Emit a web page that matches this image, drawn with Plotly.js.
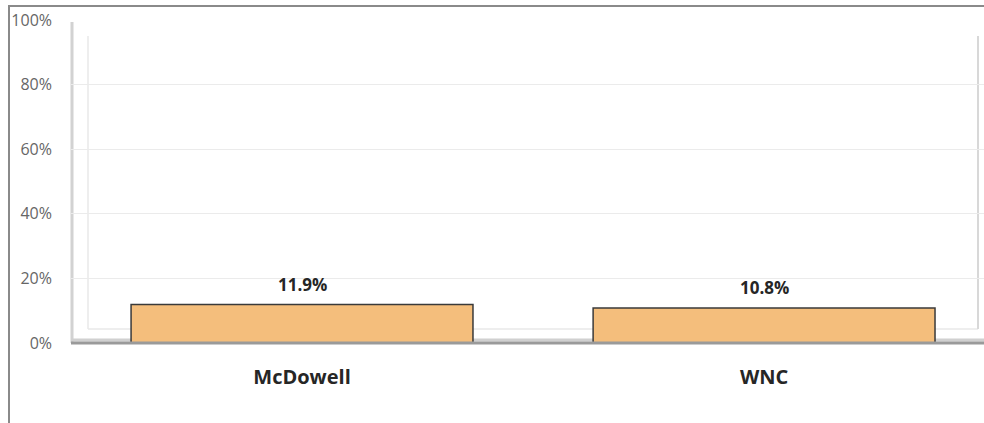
<!DOCTYPE html>
<html><head><meta charset="utf-8">
<script src="https://cdn.plot.ly/plotly-3.0.1.min.js"></script>
<style>html,body{margin:0;padding:0;background:#fff;}#chart{width:984px;height:423px;}</style>
</head><body><div id="chart"></div>
<script>
const categories = ["McDowell", "WNC"];
const values = [0.119, 0.108];
const valueLabels = ["11.9%", "10.8%"];
const tickVals = [0, 0.2, 0.4, 0.6, 0.8, 1.0];
const tickText = ["0%", "20%", "40%", "60%", "80%", "100%"];

const trace = {
  type: "bar",
  x: categories,
  y: values,
  width: 0.74,
  marker: {color: "#F4BE7C", line: {color: "#3a3a3a", width: 1.5}},
  hoverinfo: "skip"
};

const annotations = categories.map((c, i) => ({
  x: c, y: values[i], xref: "x", yref: "y",
  text: "<b>" + valueLabels[i] + "</b>",
  showarrow: false, yanchor: "bottom", yshift: 7,
  font: {family: "Open Sans, sans-serif", size: 17, color: "#262626"}
}));

const PH = 323, PW = 913;
const px = v => (v - 71) / PW;
const py = v => (343 - v) / PH;

const shapes = [
  {type: "line", xref: "paper", yref: "paper", x0: px(8), x1: 1.0, y0: py(6), y1: py(6),
   line: {color: "#8a8a8a", width: 2}, layer: "below"},
  {type: "line", xref: "paper", yref: "paper", x0: px(88), x1: px(88), y0: py(329), y1: py(36),
   line: {color: "#e8e8e8", width: 1.5}, layer: "below"},
  {type: "line", xref: "paper", yref: "paper", x0: px(88), x1: px(978), y0: py(329), y1: py(329),
   line: {color: "#e8e8e8", width: 1.5}, layer: "below"},
  {type: "line", xref: "paper", yref: "paper", x0: px(72), x1: px(72), y0: py(343), y1: py(22),
   line: {color: "#d2d2d2", width: 3}, layer: "below"},
  {type: "line", xref: "paper", yref: "paper", x0: px(978), x1: px(978), y0: py(329), y1: py(36),
   line: {color: "#d8d8d8", width: 2}, layer: "below"},
  {type: "line", xref: "paper", yref: "paper", x0: 0.0, x1: 1.0, y0: 0.0, y1: 0.0,
   line: {color: "#9a9a9a", width: 3}, layer: "above"},
  {type: "line", xref: "paper", yref: "paper", x0: 0.0, x1: 1.0, y0: py(340), y1: py(340),
   line: {color: "#d0d0d0", width: 3}, layer: "below"}
];

const layout = {
  width: 984, height: 423,
  margin: {l: 71, r: 0, t: 20, b: 80},
  paper_bgcolor: "#ffffff", plot_bgcolor: "#ffffff",
  showlegend: false,
  xaxis: {
    type: "category",
    range: [-0.5, 1.476],
    showgrid: false, zeroline: false, showline: false,
    ticks: "", ticklabelstandoff: 20,
    tickfont: {family: "Open Sans, sans-serif", size: 20, color: "#262626", weight: "bold"}
  },
  yaxis: {
    range: [0, 1.0],
    tickvals: tickVals, ticktext: tickText,
    showgrid: true, gridcolor: "#ebebeb", gridwidth: 1,
    zeroline: false, showline: false, ticks: "",
    ticklabelstandoff: 18,
    tickfont: {family: "Open Sans, sans-serif", size: 16, color: "#666666"}
  },
  shapes: shapes,
  annotations: annotations
};

Plotly.newPlot("chart", [trace], layout, {displayModeBar: false, staticPlot: true});

const border = document.createElement("div");
border.style.cssText = "position:absolute;left:8px;top:6px;width:2px;height:417px;background:#8a8a8a;";
document.body.appendChild(border);
</script>
</body></html>
